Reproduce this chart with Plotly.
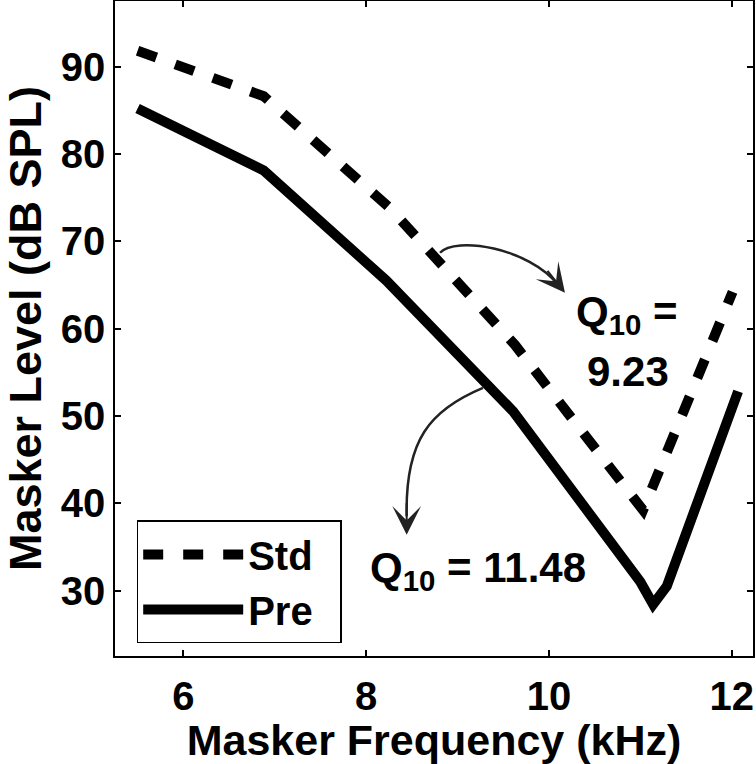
import plotly.graph_objects as go

# ---- data ----
std_freq = [5.50, 6.88, 8.26, 9.63, 11.03, 12.01]
std_level = [91.8, 86.6, 73.8, 58.1, 39.2, 64.2]

pre_freq = [5.50, 6.88, 8.22, 9.61, 11.00, 11.14, 11.29, 12.07]
pre_level = [85.2, 78.1, 65.5, 50.5, 31.0, 28.4, 30.5, 52.8]

x_ticks = [6, 8, 10, 12]
y_ticks = [30, 40, 50, 60, 70, 80, 90]

q10_std_text = "Q<sub>10</sub> ="
q10_std_value = "9.23"
q10_pre_text = "Q<sub>10</sub> = 11.48"

FONT = "Liberation Sans"

fig = go.Figure()
fig.add_trace(go.Scatter(x=std_freq, y=std_level, mode="lines", name="Std\u00a0\u00a0",
                         line=dict(color="black", width=10, dash="20px,20px")))
fig.add_trace(go.Scatter(x=pre_freq, y=pre_level, mode="lines", name="Pre\u00a0\u00a0",
                         line=dict(color="black", width=10)))

# curved arrows (Bezier paths in data coordinates)
fig.add_shape(type="path", xref="x", yref="y",
              path="M 8.809,68.67 C 8.973,70.61 9.783,69.24 10.10,65.0",
              line=dict(color="#222", width=2.5))
fig.add_shape(type="path", xref="x", yref="y",
              path="M 9.279,53.19 C 8.699,50.67 8.426,47.23 8.444,38.5",
              line=dict(color="#222", width=2.5))
# arrow heads
fig.add_annotation(x=10.176, y=64.09, ax=9.972, ay=66.77, xref="x", yref="y",
                   axref="x", ayref="y", text="", showarrow=True,
                   arrowhead=3, arrowsize=2.4, arrowwidth=2, arrowcolor="#222")
fig.add_annotation(x=8.444, y=36.38, ax=8.444, ay=40.2, xref="x", yref="y",
                   axref="x", ayref="y", text="", showarrow=True,
                   arrowhead=3, arrowsize=2.4, arrowwidth=2, arrowcolor="#222")

# Q10 labels
fig.add_annotation(x=10.85, y=61.6, xref="x", yref="y", text=q10_std_text,
                   showarrow=False, font=dict(family=FONT, size=42, color="black", weight="bold"))
fig.add_annotation(x=10.86, y=55.1, xref="x", yref="y", text=q10_std_value,
                   showarrow=False, font=dict(family=FONT, size=42, color="black", weight="bold"))
fig.add_annotation(x=9.22, y=32.3, xref="x", yref="y", text=q10_pre_text,
                   showarrow=False, font=dict(family=FONT, size=42, color="black", weight="bold"))

axis_common = dict(showline=True, linecolor="black", linewidth=1.5, mirror="ticks",
                   ticks="inside", ticklen=6, tickwidth=1.5, tickcolor="black",
                   showgrid=False, zeroline=False, automargin=False,
                   tickfont=dict(family=FONT, size=40, color="black", weight="bold"))

fig.update_xaxes(range=[5.253, 12.233], tickvals=x_ticks, ticktext=[str(v) for v in x_ticks],
                 ticklabelstandoff=4,
                 title=dict(text="Masker Frequency (kHz)", standoff=10,
                            font=dict(family=FONT, size=43, color="black", weight="bold")),
                 **axis_common)
fig.update_yaxes(range=[22.5, 97.5], tickvals=y_ticks, ticktext=[str(v) for v in y_ticks],
                 title=dict(text="Masker Level (dB SPL)", standoff=20,
                            font=dict(family=FONT, size=45, color="black", weight="bold")),
                 **axis_common)

fig.update_layout(
    width=756, height=764,
    margin=dict(l=115, r=3, t=1, b=108, autoexpand=False),
    plot_bgcolor="white", paper_bgcolor="white",
    showlegend=True,
    legend=dict(x=0.034, y=0.207, xanchor="left", yanchor="top",
                bgcolor="white", bordercolor="black", borderwidth=1.5,
                font=dict(family=FONT, size=40, color="black", weight="bold"),
                itemwidth=100, tracegroupgap=0),
)

fig.write_html("out.html", config={"displayModeBar": False},
               post_script="document.body.style.margin='0px';")
